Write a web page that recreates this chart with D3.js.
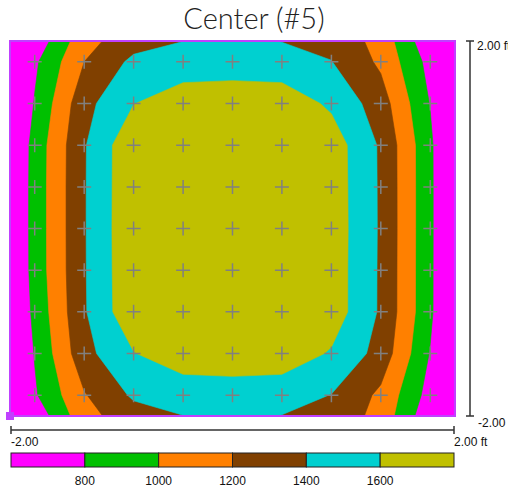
<!DOCTYPE html>
<html><head><meta charset="utf-8">
<script src="https://cdn.jsdelivr.net/npm/d3@7"></script>
<style>body{margin:0;background:#fff;overflow:hidden}svg{display:block}</style>
</head><body><svg id="chart" width="508" height="488"></svg>
<script>
// ---- data ----
const titleText = "Center (#5)";
// calculation grid positions in feet (plot edges + 9 calculation points)
const xGrid = [-2, -1.778, -1.333, -0.889, -0.444, 0, 0.444, 0.889, 1.333, 1.778, 2];
const yGrid = [2, 1.778, 1.333, 0.889, 0.444, 0, -0.444, -0.889, -1.333, -1.778, -2];
// illuminance values (rows top -> bottom, columns left -> right)
const rowTop = [400, 660, 1130, 1320, 1398, 1440, 1395, 1340, 1130, 642, 380];
const row1   = [450, 765, 1200, 1445, 1480, 1485, 1480, 1405, 1163, 730, 420];
const row2   = [520, 812, 1336, 1595, 1720, 1740, 1720, 1565, 1296, 790, 460];
const row3   = [550, 875, 1383, 1763, 1800, 1810, 1800, 1707, 1373, 840, 480];
const row4   = [555, 880, 1385, 1765, 1810, 1820, 1805, 1712, 1375, 842, 482];
const row5   = [555, 880, 1385, 1768, 1812, 1822, 1808, 1715, 1376, 842, 482];
const row6   = [552, 878, 1384, 1765, 1808, 1818, 1804, 1712, 1374, 841, 481];
const row7   = [548, 850, 1380, 1760, 1800, 1810, 1800, 1712, 1373, 840, 480];
const row8   = [515, 810, 1336, 1592, 1720, 1740, 1720, 1580, 1327, 787, 460];
const row9   = [440, 775, 1185, 1430, 1480, 1485, 1480, 1395, 1158, 720, 410];
const rowBot = [400, 660, 1130, 1318, 1397, 1440, 1395, 1340, 1130, 650, 380];
const thresholds = [800, 1000, 1200, 1400, 1600];
const bandColors = ["#ff00ff", "#00c000", "#ff8000", "#804000", "#00d0d0", "#c0c000"];
const legendLabels = ["800", "1000", "1200", "1400", "1600"];
const xAxisLabels = ["-2.00", "2.00 ft"];
const yAxisLabels = ["2.00 ft", "-2.00"];

// ---- drawing ----
const rows = [rowTop, row1, row2, row3, row4, row5, row6, row7, row8, row9, rowBot];
const nx = xGrid.length, ny = yGrid.length;
const values = rows.flat();
const svg = d3.select("#chart");
const font = "'Liberation Sans', Arial, sans-serif";

const plot = {left: 10, right: 455, top: 41, bottom: 416};
const x = d3.scaleLinear().domain([-2, 2]).range([plot.left, plot.right]);
const y = d3.scaleLinear().domain([2, -2]).range([plot.top, plot.bottom]);

svg.append("text").attr("x", 254).attr("y", 29).attr("text-anchor", "middle")
  .attr("font-family", "Lato, 'Open Sans', sans-serif").attr("font-size", 29)
  .attr("font-weight", 300).attr("fill", "#222").text(titleText);

// map d3.contours grid coordinates -> feet (piecewise linear through the grid positions)
function gridToFt(c, arr) {
  let t = Math.max(0, Math.min(arr.length - 1, c - 0.5));
  let i = Math.min(arr.length - 2, Math.floor(t));
  return arr[i] + (t - i) * (arr[i + 1] - arr[i]);
}
const proj = d3.geoTransform({
  point: function(px, py) { this.stream.point(x(gridToFt(px, xGrid)), y(gridToFt(py, yGrid))); }
});
const path = d3.geoPath(proj);

const clip = svg.append("defs").append("clipPath").attr("id", "pc");
clip.append("rect").attr("x", plot.left).attr("y", plot.top)
  .attr("width", plot.right - plot.left).attr("height", plot.bottom - plot.top);

const g = svg.append("g").attr("clip-path", "url(#pc)");
g.append("rect").attr("x", plot.left).attr("y", plot.top)
  .attr("width", plot.right - plot.left).attr("height", plot.bottom - plot.top)
  .attr("fill", bandColors[0]);

const contours = d3.contours().size([nx, ny]).thresholds(thresholds)(values);
g.selectAll("path.band").data(contours).join("path").attr("class", "band")
  .attr("d", path)
  .attr("fill", (d, i) => bandColors[i + 1])
  .attr("stroke", (d, i) => bandColors[i + 1]).attr("stroke-width", 0.6);

// calculation point crosses
const pts = [];
for (let j = 1; j < ny - 1; j++) for (let i = 1; i < nx - 1; i++) pts.push([xGrid[i], yGrid[j]]);
svg.append("g").selectAll("path").data(pts).join("path")
  .attr("d", d => `M${x(d[0]) - 7},${y(d[1])}H${x(d[0]) + 7}M${x(d[0])},${y(d[1]) - 7}V${y(d[1]) + 7}`)
  .attr("stroke", "#808080").attr("stroke-width", 1.5).attr("fill", "none");

// plot border
svg.append("rect").attr("x", plot.left).attr("y", plot.top)
  .attr("width", plot.right - plot.left).attr("height", plot.bottom - plot.top)
  .attr("fill", "none").attr("stroke", "#c040ff").attr("stroke-width", 2);
svg.append("rect").attr("x", x(-2) - 4).attr("y", y(-2) - 4).attr("width", 8).attr("height", 8)
  .attr("fill", "#c040ff");

// right dimension axis
const ax = 470;
const axG = svg.append("g").attr("stroke", "#333").attr("stroke-width", 1.5).attr("fill", "none");
axG.append("path").attr("d", `M${ax},${y(2)}V${y(-2)}M${ax - 4},${y(2)}H${ax + 4}M${ax - 4},${y(-2)}H${ax + 4}`);
svg.append("text").attr("x", 477).attr("y", y(2) + 9).attr("font-family", font).attr("font-size", 12)
  .attr("fill", "#111").text(yAxisLabels[0]);
svg.append("text").attr("x", 478).attr("y", y(-2) + 11).attr("font-family", font).attr("font-size", 12)
  .attr("fill", "#111").text(yAxisLabels[1]);

// bottom dimension axis
const ay = 430;
axG.append("path").attr("d", `M${x(-2) + 1},${ay}H${x(2) - 1}M${x(-2) + 1},${ay - 4}V${ay + 4}M${x(2) - 1},${ay - 4}V${ay + 4}`);
svg.append("text").attr("x", x(-2) + 1).attr("y", 446).attr("font-family", font).attr("font-size", 12)
  .attr("fill", "#111").text(xAxisLabels[0]);
svg.append("text").attr("x", x(2) - 1).attr("y", 446).attr("font-family", font).attr("font-size", 12)
  .attr("fill", "#111").text(xAxisLabels[1]);

// legend
const lx = d3.scaleBand().domain(d3.range(bandColors.length)).range([x(-2) + 1, x(2) - 1]);
const lg = svg.append("g");
lg.selectAll("rect").data(bandColors).join("rect")
  .attr("x", (d, i) => lx(i)).attr("y", 453).attr("width", lx.bandwidth()).attr("height", 14)
  .attr("fill", d => d).attr("stroke", "#222").attr("stroke-width", 1);
lg.selectAll("text").data(legendLabels).join("text")
  .attr("x", (d, i) => lx(i + 1)).attr("y", 485).attr("text-anchor", "middle")
  .attr("font-family", font).attr("font-size", 12).attr("fill", "#111").text(d => d);
</script></body></html>
